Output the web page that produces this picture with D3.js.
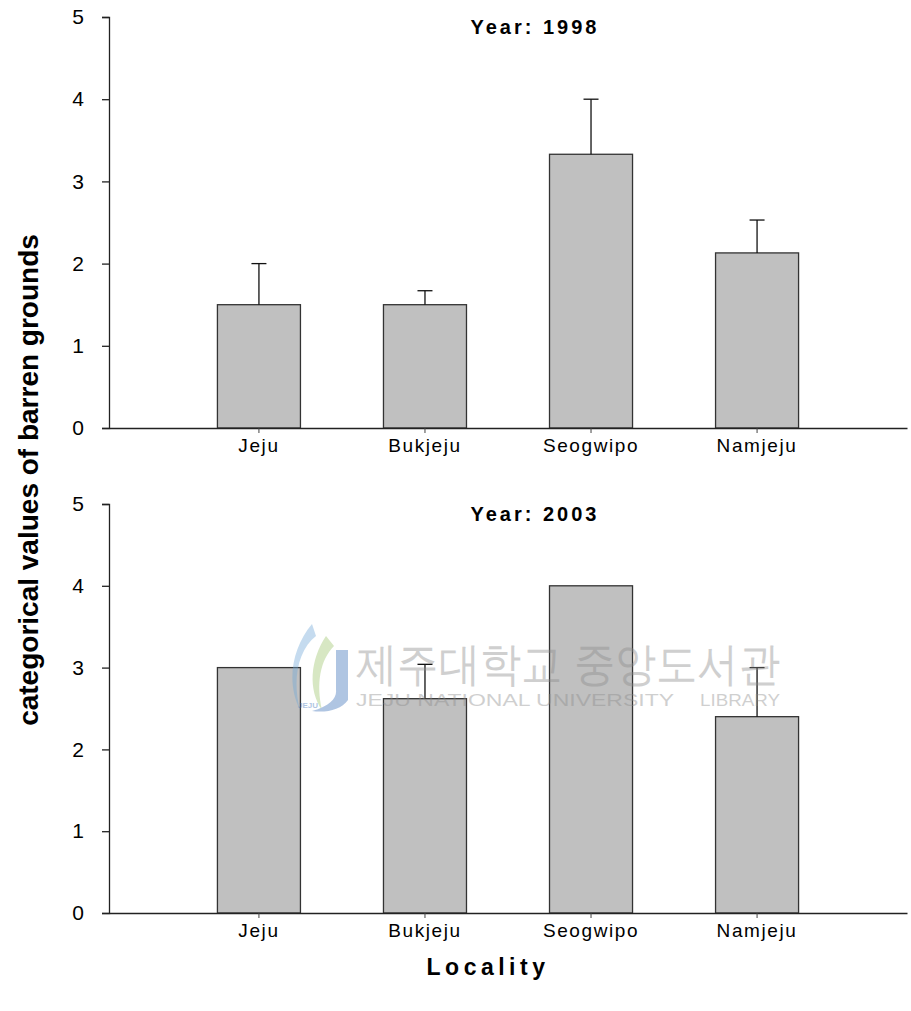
<!DOCTYPE html>
<html>
<head>
<meta charset="utf-8">
<script src="https://cdn.jsdelivr.net/npm/d3@7"></script>
<style>
  html, body { margin: 0; padding: 0; background: #fff; }
  svg { display: block; }
  text { font-family: "Liberation Sans", Arial, sans-serif; }
</style>
</head>
<body>
<script>
// ---- data ----
const categories = ["Jeju", "Bukjeju", "Seogwipo", "Namjeju"];
const years = ["1998", "2003"];
const means1998 = [1.5, 1.5, 3.33, 2.13];
const errTop1998 = [2.0, 1.67, 4.0, 2.53];
const means2003 = [3.0, 2.62, 4.0, 2.4];
const errTop2003 = [3.0, 3.04, 4.0, 3.0];
const yTicks = [0, 1, 2, 3, 4, 5];

const panels = [
  { year: years[0], means: means1998, errTop: errTop1998, top: 17, bottom: 428 },
  { year: years[1], means: means2003, errTop: errTop2003, top: 504, bottom: 913 }
];

const W = 911, H = 1011;
const left = 109, right = 907;

const svg = d3.select("body").append("svg").attr("width", W).attr("height", H);

const x = d3.scaleBand().domain(categories).range([left, right])
  .paddingInner(0.5).paddingOuter(0.653);

function watermark(parent, op) {
  const wm = parent.append("g").attr("opacity", op);
  wm.append("path")
    .attr("d", "M312,624 C292,648 286,682 300,710 C292,680 298,650 316,636 Z")
    .attr("fill", "#6fa8d8");
  wm.append("path")
    .attr("d", "M326,636 C310,660 308,690 322,710 C316,684 320,660 334,646 Z")
    .attr("fill", "#9cc46a");
  wm.append("path")
    .attr("d", "M336,650 L348,650 L348,700 C341,710 326,713 312,711 C330,706 337,698 336,690 Z")
    .attr("fill", "#3a6fb8");
  wm.append("text").attr("x", 298).attr("y", 708)
    .attr("font-size", 8).attr("font-weight", "bold").attr("fill", "#3a6fb8")
    .text("JEJU");
  wm.append("text").attr("x", 356).attr("y", 680)
    .attr("font-family", "'Noto Sans CJK KR', sans-serif")
    .attr("font-size", 46).attr("fill", "#8a8a8a")
    .attr("textLength", 424).attr("lengthAdjust", "spacingAndGlyphs")
    .text("제주대학교 중앙도서관");
  wm.append("text").attr("x", 356).attr("y", 706)
    .attr("font-size", 17).attr("fill", "#8a8a8a")
    .attr("textLength", 318).attr("lengthAdjust", "spacingAndGlyphs")
    .text("JEJU NATIONAL UNIVERSITY");
  wm.append("text").attr("x", 700).attr("y", 706)
    .attr("font-size", 17).attr("fill", "#8a8a8a")
    .attr("textLength", 80).attr("lengthAdjust", "spacingAndGlyphs")
    .text("LIBRARY");
}

panels.forEach(p => {
  const y = d3.scaleLinear().domain([0, 5]).range([p.bottom, p.top]);
  const g = svg.append("g");

  // bars
  g.selectAll("rect.bar").data(categories).enter().append("rect")
    .attr("class", "bar")
    .attr("x", d => x(d))
    .attr("width", x.bandwidth())
    .attr("y", (d, i) => y(p.means[i]))
    .attr("height", (d, i) => y(0) - y(p.means[i]))
    .attr("fill", "#c0c0c0")
    .attr("stroke", "#333")
    .attr("stroke-width", 1.3);

  // error bars (upper only)
  categories.forEach((c, i) => {
    if (p.errTop[i] > p.means[i] + 0.001) {
      const cx = x(c) + x.bandwidth() / 2;
      g.append("line")
        .attr("x1", cx).attr("x2", cx)
        .attr("y1", y(p.means[i])).attr("y2", y(p.errTop[i]))
        .attr("stroke", "#111").attr("stroke-width", 1.3);
      g.append("line")
        .attr("x1", cx - 7.5).attr("x2", cx + 7.5)
        .attr("y1", y(p.errTop[i])).attr("y2", y(p.errTop[i]))
        .attr("stroke", "#111").attr("stroke-width", 1.3);
    }
  });

  // y axis
  const ya = g.append("g").attr("transform", `translate(${left},0)`)
    .call(d3.axisLeft(y).tickValues(yTicks).tickFormat(d3.format("d"))
      .tickSize(7).tickPadding(18).tickSizeOuter(7));
  ya.select(".domain").attr("stroke", "#222").attr("stroke-width", 1.3);
  ya.selectAll(".tick line").attr("stroke", "#222").attr("stroke-width", 1.3);
  ya.selectAll("text").attr("font-size", 21).attr("fill", "#000")
    .attr("font-family", "'Liberation Sans', Arial, sans-serif");

  // x axis
  const xa = g.append("g").attr("transform", `translate(0,${p.bottom})`)
    .call(d3.axisBottom(x).tickSize(5).tickSizeOuter(0).tickPadding(6));
  xa.select(".domain").attr("stroke", "#222").attr("stroke-width", 1.3);
  xa.selectAll(".tick line").attr("stroke", "#444").attr("stroke-width", 1);
  xa.selectAll("text").attr("font-size", 19).attr("fill", "#000")
    .attr("letter-spacing", "1.6px")
    .attr("font-family", "'Liberation Sans', Arial, sans-serif");

  // title
  svg.append("text")
    .attr("x", 535).attr("y", p.top + 17)
    .attr("text-anchor", "middle")
    .attr("font-size", 20).attr("font-weight", "bold")
    .attr("letter-spacing", "3px")
    .text("Year: " + p.year);
});

watermark(svg, 0.4);

// axis labels
svg.append("text")
  .attr("transform", "translate(38,480) rotate(-90)")
  .attr("text-anchor", "middle")
  .attr("font-size", 28).attr("font-weight", "bold")
  .text("categorical values of barren grounds");

svg.append("text")
  .attr("x", 488).attr("y", 975)
  .attr("text-anchor", "middle")
  .attr("font-size", 23).attr("font-weight", "bold")
  .attr("letter-spacing", "4.5px")
  .text("Locality");
</script>
</body>
</html>
